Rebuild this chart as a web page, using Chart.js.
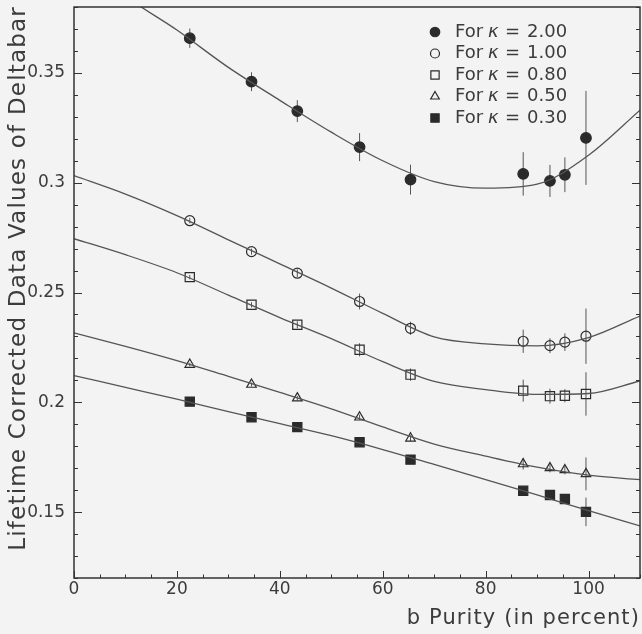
<!DOCTYPE html>
<html>
<head>
  <title>Deltabar vs b Purity</title>
  <script src="https://cdn.jsdelivr.net/npm/chart.js"></script>
  <style>
    html, body { margin: 0; padding: 0; background: #f3f3f3; }
    #wrap { width: 642px; height: 634px; }
  </style>
</head>
<body>
  <div id="wrap"><canvas id="deltaChart"></canvas></div>

  <script>
    // b purity of each measurement (percent)
    var purity = [22.5, 34.5, 43.4, 55.5, 65.4, 87.3, 92.5, 95.4, 99.5];

    // lifetime corrected Deltabar values and their errors, one array per kappa
    var k200 = [0.3658, 0.3460, 0.3326, 0.3162, 0.3014, 0.3040, 0.3008, 0.3036, 0.3204];
    var k200Err = [0.0044, 0.0043, 0.0050, 0.0064, 0.0068, 0.0099, 0.0073, 0.0079, 0.0214];
    var k100 = [0.2827, 0.2686, 0.2588, 0.2459, 0.2337, 0.2278, 0.2258, 0.2274, 0.2301];
    var k100Err = [0.0012, 0.0014, 0.0018, 0.0036, 0.0030, 0.0053, 0.0034, 0.0040, 0.0126];
    var k080 = [0.2570, 0.2444, 0.2353, 0.2239, 0.2126, 0.2053, 0.2028, 0.2030, 0.2038];
    var k080Err = [0.0010, 0.0012, 0.0016, 0.0030, 0.0028, 0.0050, 0.0034, 0.0030, 0.0099];
    var k050 = [0.2172, 0.2081, 0.2019, 0.1932, 0.1836, 0.1719, 0.1701, 0.1692, 0.1674];
    var k050Err = [0.0008, 0.0009, 0.0010, 0.0012, 0.0014, 0.0025, 0.0020, 0.0020, 0.0075];
    var k030 = [0.2003, 0.1932, 0.1887, 0.1818, 0.1739, 0.1597, 0.1578, 0.1560, 0.1501];
    var k030Err = [0.0008, 0.0008, 0.0009, 0.0010, 0.0012, 0.0020, 0.0018, 0.0018, 0.0065];

    // fitted curves, sampled every 10 percent
    var fitX = [0, 10, 20, 30, 40, 50, 60, 70, 80, 90, 100, 110];
    var fit200 = [0.405, 0.385, 0.3695, 0.3525, 0.3375, 0.3230, 0.3100, 0.3005, 0.2975, 0.2993, 0.3125, 0.3330];
    var fit100 = [0.3032, 0.2948, 0.2850, 0.2740, 0.2630, 0.2520, 0.2405, 0.2298, 0.2266, 0.2257, 0.2295, 0.2393];
    var fit080 = [0.2745, 0.2672, 0.2590, 0.2488, 0.2386, 0.2290, 0.2185, 0.2095, 0.2058, 0.2036, 0.2040, 0.2097];
    var fit050 = [0.2316, 0.2255, 0.2190, 0.2118, 0.2045, 0.1970, 0.1888, 0.1810, 0.1755, 0.1705, 0.1668, 0.1648];
    var fit030 = [0.2122, 0.2068, 0.2014, 0.1958, 0.1903, 0.1848, 0.1785, 0.1717, 0.1648, 0.1578, 0.1507, 0.1437];

    var legendLabels = ['2.00', '1.00', '0.80', '0.50', '0.30'];
    var xTitle = 'b Purity (in percent)';
    var yTitle = 'Lifetime Corrected Data Values of Deltabar';

    var bg = '#f3f3f3';
    var ink = '#2b2b2b';
    var lineInk = '#555555';
    var textInk = '#3c3c3c';
    var fontFamily = "'DejaVu Sans', sans-serif";

    Chart.defaults.font.family = fontFamily;
    Chart.defaults.color = textInk;

    function pts(xs, ys) {
      return xs.map(function (x, i) { return { x: x, y: ys[i] }; });
    }

    // marker style per kappa
    var markers = [
      { style: 'circle', radius: 5.3, fill: ink, border: ink },
      { style: 'circle', radius: 5, fill: 'rgba(0,0,0,0)', border: ink },
      { style: 'rect', radius: 6.5, fill: 'rgba(0,0,0,0)', border: ink },
      { style: 'triangle', radius: 5.5, fill: 'rgba(0,0,0,0)', border: ink },
      { style: 'rect', radius: 6.5, fill: ink, border: ink }
    ];
    var series = [k200, k100, k080, k050, k030];
    var errors = [k200Err, k100Err, k080Err, k050Err, k030Err];
    var fits = [fit200, fit100, fit080, fit050, fit030];

    var datasets = [];
    fits.forEach(function (f) {
      datasets.push({
        type: 'line',
        data: pts(fitX, f),
        borderColor: lineInk,
        borderWidth: 1.3,
        pointRadius: 0,
        fill: false,
        cubicInterpolationMode: 'monotone'
      });
    });
    series.forEach(function (s, i) {
      var m = markers[i];
      datasets.push({
        type: 'scatter',
        data: pts(purity, s),
        errors: errors[i],
        pointStyle: m.style,
        pointRadius: m.radius,
        pointBackgroundColor: m.fill,
        pointBorderColor: m.border,
        pointBorderWidth: 1.2,
        showLine: false
      });
    });

    // page background
    var background = {
      id: 'background',
      beforeDraw: function (chart) {
        var ctx = chart.ctx;
        ctx.save();
        ctx.fillStyle = bg;
        ctx.fillRect(0, 0, chart.width, chart.height);
        ctx.restore();
      }
    };

    // vertical error bars through each measurement
    var errorBars = {
      id: 'errorBars',
      beforeDatasetsDraw: function (chart) {
        var ctx = chart.ctx, xs = chart.scales.x, ys = chart.scales.y;
        ctx.save();
        ctx.strokeStyle = lineInk;
        ctx.lineWidth = 1;
        chart.data.datasets.forEach(function (ds) {
          if (!ds.errors) return;
          ds.data.forEach(function (p, i) {
            var px = xs.getPixelForValue(p.x);
            ctx.beginPath();
            ctx.moveTo(px, ys.getPixelForValue(p.y + ds.errors[i]));
            ctx.lineTo(px, ys.getPixelForValue(p.y - ds.errors[i]));
            ctx.stroke();
          });
        });
        ctx.restore();
      }
    };

    // frame with inward tick marks
    var frame = {
      id: 'frame',
      afterDatasetsDraw: function (chart) {
        var ctx = chart.ctx, a = chart.chartArea;
        var xs = chart.scales.x, ys = chart.scales.y;
        ctx.save();
        ctx.strokeStyle = '#333333';
        ctx.lineWidth = 1;
        xs.ticks.forEach(function (t) {
          var px = Math.round(xs.getPixelForValue(t.value)) + 0.5;
          var len = (Math.round(t.value) % 20 === 0) ? 7 : 3.5;
          ctx.beginPath();
          ctx.moveTo(px, a.bottom);
          ctx.lineTo(px, a.bottom - len);
          ctx.stroke();
        });
        ys.ticks.forEach(function (t) {
          var py = Math.round(ys.getPixelForValue(t.value)) + 0.5;
          var len = (Math.round(t.value * 100) % 5 === 0) ? 8 : 4;
          ctx.beginPath();
          ctx.moveTo(a.left, py);
          ctx.lineTo(a.left + len, py);
          ctx.moveTo(a.right, py);
          ctx.lineTo(a.right - len, py);
          ctx.stroke();
        });
        ctx.lineWidth = 1.5;
        ctx.strokeRect(a.left, a.top, a.right - a.left, a.bottom - a.top);
        ctx.restore();
      }
    };

    // axis titles, drawn with wider letter spacing
    var axisTitles = {
      id: 'axisTitles',
      afterDraw: function (chart) {
        var ctx = chart.ctx, a = chart.chartArea;
        ctx.save();
        ctx.fillStyle = textInk;
        ctx.textBaseline = 'middle';
        ctx.font = '21px ' + fontFamily;
        ctx.letterSpacing = '1.1px';
        ctx.textAlign = 'right';
        ctx.fillText(xTitle, a.right, 619);
        ctx.translate(19, a.top - 1);
        ctx.rotate(-Math.PI / 2);
        ctx.font = '23px ' + fontFamily;
        ctx.letterSpacing = '1.2px';
        ctx.fillText(yTitle, 0, 0);
        ctx.restore();
      }
    };

    // legend box in the upper right
    var legendBox = {
      id: 'legendBox',
      afterDraw: function (chart) {
        var ctx = chart.ctx;
        var rows = [32, 53.5, 75, 96.5, 118];
        ctx.save();
        ctx.textBaseline = 'middle';
        legendLabels.forEach(function (lab, i) {
          var m = markers[i];
          ctx.fillStyle = m.fill;
          ctx.strokeStyle = m.border;
          ctx.lineWidth = 1.2;
          Chart.helpers.drawPoint(ctx, { pointStyle: m.style, radius: m.radius * 0.9, borderWidth: 1.2 }, 435, rows[i]);
          ctx.fillStyle = textInk;
          ctx.font = '18px ' + fontFamily;
          ctx.fillText('For', 455, rows[i]);
          ctx.font = 'italic 18px ' + fontFamily;
          ctx.fillText('\u03BA', 488, rows[i]);
          ctx.font = '18px ' + fontFamily;
          ctx.fillText('=', 505, rows[i]);
          ctx.fillText(lab, 527, rows[i]);
        });
        ctx.restore();
      }
    };

    var ctx = document.getElementById('deltaChart').getContext('2d');
    var chart = new Chart(ctx, {
      type: 'scatter',
      data: { datasets: datasets },
      plugins: [background, errorBars, frame, axisTitles, legendBox],
      options: {
        responsive: true,
        maintainAspectRatio: false,
        animation: false,
        layout: { autoPadding: false, padding: { top: 7, right: 2, bottom: 0, left: 0 } },
        plugins: {
          legend: { display: false },
          tooltip: { enabled: false }
        },
        scales: {
          x: {
            type: 'linear',
            min: 0,
            max: 110,
            grid: { display: false },
            border: { display: false },
            afterFit: function (scale) { scale.height = 56; },
            ticks: {
              stepSize: 5,
              autoSkip: false,
              maxRotation: 0,
              padding: -7,
              font: { size: 17 },
              callback: function (v) {
                var r = Math.round(v);
                return (r % 20 === 0 && r <= 100) ? String(r) : '';
              }
            }
          },
          y: {
            type: 'linear',
            min: 0.12,
            max: 0.38,
            grid: { display: false },
            border: { display: false },
            afterFit: function (scale) {
              scale.width = 74;
              scale.paddingTop = 0;
              scale.paddingBottom = 0;
            },
            ticks: {
              stepSize: 0.01,
              autoSkip: false,
              padding: 1,
              font: { size: 17 },
              callback: function (v) {
                var r = Math.round(v * 100);
                return (r % 5 === 0) ? String(r / 100) : '';
              }
            }
          }
        }
      }
    });
  </script>
</body>
</html>
